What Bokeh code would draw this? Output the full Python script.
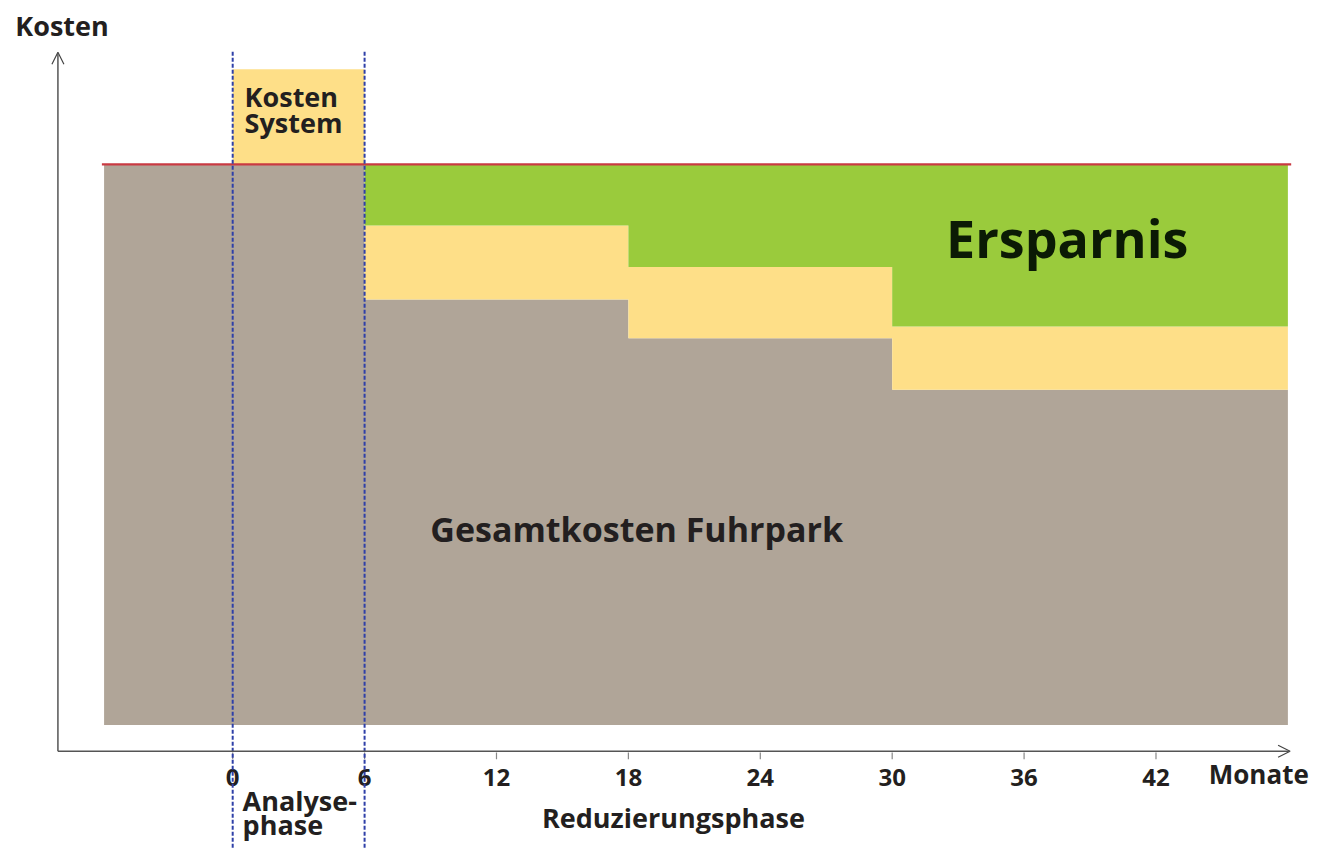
from bokeh.plotting import figure
from bokeh.models import Range1d, Arrow, OpenHead
from bokeh.core.properties import value
from bokeh.embed import file_html
from bokeh.resources import INLINE

# ---- data ----
tick_months = [0, 6, 12, 18, 24, 30, 36, 42]
tick_labels = ["0", "6", "12", "18", "24", "30", "36", "42"]

chart_start = -5.85          # start of the fleet-cost block (months)
chart_end = 48.0             # end of the fleet-cost block (months)
analysis_start = 0
analysis_end = 6

fleet_cost_floor = 4.5       # bottom of the fleet-cost block
fleet_cost_initial = 100.0   # total fleet cost before the system (red line)
system_cost_analysis = 116.2 # fleet cost + system cost during analysis phase

phase_start = [6, 18, 30]
phase_end = [18, 30, 48]
fleet_cost_reduced = [77.0, 70.4, 61.6]
fleet_plus_system = [89.6, 82.5, 72.4]

FONT = value("Open Sans")
TXT = "#231f20"
GRAY = "#b0a598"
YELLOW = "#fedf88"
GREEN = "#9acb3c"

W, H = 1319, 848
XR = (-10.562, 49.438)
YR = (-16.555, 127.926)
PX_PER_UNIT_Y = H / (YR[1] - YR[0])

p = figure(width=W, height=H, output_backend="svg", toolbar_location=None,
           x_range=Range1d(*XR), y_range=Range1d(*YR),
           x_axis_type=None, y_axis_type=None, min_border=0)
p.outline_line_color = None
p.grid.visible = False
p.background_fill_color = "white"
p.border_fill_color = "white"


def steps(levels):
    xs, ys = [], []
    for s, e, v in zip(phase_start, phase_end, levels):
        xs += [s, e]
        ys += [v, v]
    return xs, ys


red_x, red_y = steps(fleet_cost_reduced)
sys_x, sys_y = steps(fleet_plus_system)

# fleet cost (gray) as one outline
gx = [chart_start, chart_start, analysis_end] + red_x + [chart_end]
gy = [fleet_cost_floor, fleet_cost_initial, fleet_cost_initial] + red_y + [fleet_cost_floor]
p.patch(gx, gy, fill_color=GRAY, line_color=None)

# system cost during analysis (yellow)
p.quad(left=[analysis_start], right=[analysis_end], top=[system_cost_analysis],
       bottom=[fleet_cost_initial], fill_color=YELLOW, line_color=None)

# system cost during reduction (yellow)
p.patch(sys_x + red_x[::-1], sys_y + red_y[::-1], fill_color=YELLOW, line_color=None)

# savings (green)
p.patch(sys_x + [chart_end, phase_start[0]],
        sys_y + [fleet_cost_initial, fleet_cost_initial],
        fill_color=GREEN, line_color=None)

# red reference line
p.segment(x0=[chart_start - 0.1], x1=[chart_end + 0.15],
          y0=[fleet_cost_initial], y1=[fleet_cost_initial],
          line_color="#c93a42", line_width=2.2)

# axes with arrows
axis_x0 = -7.95
p.add_layout(Arrow(end=OpenHead(size=12, line_color="#444444", line_width=1.2),
                   x_start=axis_x0, y_start=0, x_end=axis_x0, y_end=119.1,
                   line_color="#555555", line_width=1.5))
p.add_layout(Arrow(end=OpenHead(size=12, line_color="#444444", line_width=1.2),
                   x_start=axis_x0, y_start=0, x_end=48.1, y_end=0,
                   line_color="#555555", line_width=1.5))

# tick marks
p.segment(x0=tick_months, x1=tick_months, y0=[-0.2] * 8, y1=[-1.35] * 8,
          line_color="#888888", line_width=1.2)


def shift(y, size):
    # lift the text so that its alphabetic baseline sits at y
    return y + 0.3 * size / PX_PER_UNIT_Y


# tick labels
p.text(x=tick_months, y=[shift(-5.7, 24)] * 8, text=tick_labels, text_font=FONT,
       text_font_style="bold", text_font_size="24px", text_color=TXT,
       text_align="center", text_baseline="alphabetic")

# phase boundaries (dashed)
p.segment(x0=[analysis_start, analysis_end], x1=[analysis_start, analysis_end],
          y0=[119.2, 119.2], y1=[YR[0] - 0.5, YR[0] - 0.5],
          line_color="#2f40a8", line_width=2, line_dash="4 2")


def label(x, y, t, size, color=TXT):
    p.text(x=[x], y=[shift(y, size)], text=[t], text_font=FONT,
           text_font_style="bold", text_font_size=f"{size}px",
           text_color=color, text_align="left", text_baseline="alphabetic")


label(-9.89, 122.3, "Kosten", 27)
label(0.54, 110.2, "Kosten", 27)
label(0.54, 105.7, "System", 27)
label(32.45, 84.9, "Ersparnis", 52, "#0b1a05")
label(8.99, 36.1, "Gesamtkosten Fuhrpark", 34)
label(44.4, -5.2, "Monate", 26)
label(0.45, -9.7, "Analyse-", 27)
label(0.45, -13.9, "phase", 27)
label(14.07, -12.7, "Reduzierungsphase", 27)

open("out.html", "w").write(file_html(p, INLINE))
